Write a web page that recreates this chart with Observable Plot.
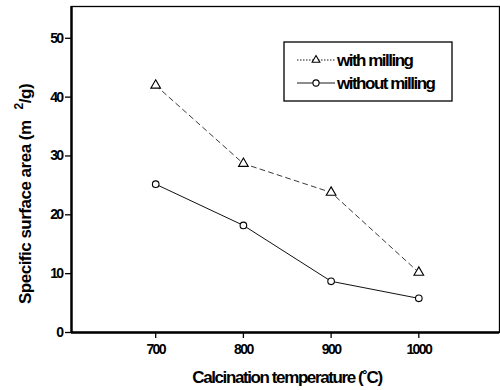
<!DOCTYPE html>
<html><head><meta charset="utf-8">
<script src="https://cdn.jsdelivr.net/npm/d3@7"></script>
<script src="https://cdn.jsdelivr.net/npm/@observablehq/plot@0.6"></script>
<style>body{margin:0;background:#fff} #chart{position:relative;width:500px;height:390px}</style>
</head><body><div id="chart"></div>
<script>
const temps = [700, 800, 900, 1000];
const withMilling = [42.0, 28.7, 23.8, 10.2];
const withoutMilling = [25.2, 18.2, 8.7, 5.8];
const seriesNames = ["with milling", "without milling"];
const xTicks = [700, 800, 900, 1000];
const yTicks = [0, 10, 20, 30, 40, 50];
const xLabel = "Calcination temperature (\u02DAC)";
const yLabelMain = "Specific surface area (m";
const yLabelSup = "2";
const yLabelEnd = "/g)";

const FONT = "'Liberation Sans', Arial, sans-serif";
const rowsWith = temps.map((t, i) => ({t, v: withMilling[i], s: seriesNames[0]}));
const rowsWithout = temps.map((t, i) => ({t, v: withoutMilling[i], s: seriesNames[1]}));

const plot = Plot.plot({
  width: 500, height: 390,
  marginLeft: 71, marginRight: 1, marginTop: 6, marginBottom: 58,
  style: {fontFamily: FONT, fontSize: "14px", background: "#fff", color: "#000", letterSpacing: "-1.6px"},
  x: {domain: [604, 1092]},
  y: {domain: [0, 55.4]},
  marks: [
    Plot.frame({stroke: "#000", strokeWidth: 1.3}),
    Plot.ruleX([604], {stroke: "#000", strokeWidth: 2.4}),
    Plot.ruleY([0], {stroke: "#000", strokeWidth: 2.4}),
    Plot.axisX({ticks: xTicks, tickFormat: d => String(d), tickSize: 6, tickPadding: 6, label: null, fontSize: 14, fontWeight: "bold", strokeWidth: 1.3}),
    Plot.axisY({ticks: yTicks, tickFormat: d => String(d), tickSize: 6, tickPadding: 3, label: null, fontSize: 14, fontWeight: "bold", strokeWidth: 1.3}),
    Plot.line(rowsWith, {x: "t", y: "v", stroke: "#222", strokeWidth: 0.9, strokeDasharray: "5,4"}),
    Plot.line(rowsWithout, {x: "t", y: "v", stroke: "#111", strokeWidth: 1}),
    Plot.dot(rowsWith, {x: "t", y: "v", symbol: "triangle", r: 3.6, stroke: "#000", fill: "#fff", strokeWidth: 1.1}),
    Plot.dot(rowsWithout, {x: "t", y: "v", symbol: "circle", r: 3.3, stroke: "#000", fill: "#fff", strokeWidth: 1.1})
  ]
});
document.getElementById("chart").appendChild(plot);

const svg = d3.select(plot);
// axis titles
svg.append("text").attr("x", 287).attr("y", 383).attr("text-anchor", "middle")
  .attr("font-family", FONT).attr("font-size", 17).attr("font-weight", "bold").style("letter-spacing", "-1.4px").text(xLabel);
const yl = svg.append("text").attr("transform", "translate(31,304) rotate(-90)").attr("text-anchor", "start")
  .attr("font-family", FONT).attr("font-size", 17).attr("font-weight", "bold").style("letter-spacing", "-0.5px");
yl.append("tspan").text(yLabelMain);
yl.append("tspan").attr("dx", 11).attr("dy", -8).attr("font-size", 12).text(yLabelSup);
yl.append("tspan").attr("dy", 8).text(yLabelEnd);

// legend
const lg = svg.append("g");
lg.append("rect").attr("x", 284).attr("y", 42).attr("width", 168).attr("height", 59)
  .attr("fill", "#fff").attr("stroke", "#000").attr("stroke-width", 1.3);
const styles = [
  {dash: "1.5,1.5", sym: d3.symbolTriangle, size: 26},
  {dash: "none", sym: d3.symbolCircle, size: 30}
];
seriesNames.forEach((name, i) => {
  const cy = 60 + i * 23;
  lg.append("line").attr("x1", 297).attr("x2", 335).attr("y1", cy).attr("y2", cy)
    .attr("stroke", "#000").attr("stroke-width", 0.9).attr("stroke-dasharray", styles[i].dash);
  lg.append("path").attr("d", d3.symbol(styles[i].sym, styles[i].size)()).attr("transform", `translate(316,${cy})`)
    .attr("fill", "#fff").attr("stroke", "#000").attr("stroke-width", 1.1);
  lg.append("text").attr("x", 337).attr("y", cy + 6).attr("text-anchor", "start").attr("font-family", FONT).attr("font-size", 17)
    .attr("font-weight", "bold").style("letter-spacing", "-1.5px").text(name);
});
</script>
</body></html>
